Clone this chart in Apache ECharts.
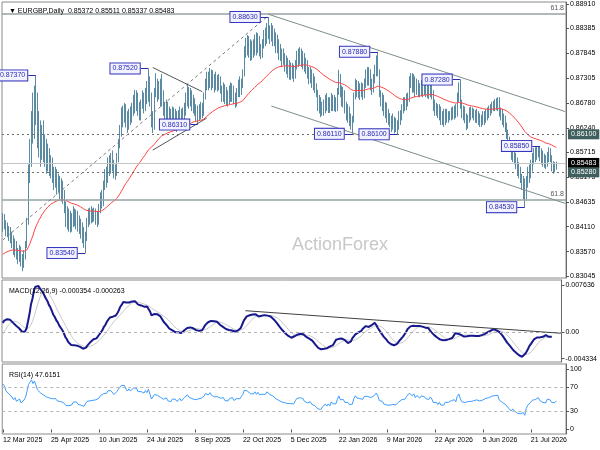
<!DOCTYPE html>
<html><head><meta charset="utf-8">
<script src="https://cdn.jsdelivr.net/npm/echarts@6/dist/echarts.min.js"></script>
<style>html,body{margin:0;padding:0;background:#fff}#c{width:600px;height:450px}</style>
</head><body><div id="c"></div>
<script>
// ---- DATA (prices in 1/10000, e.g. 8537 = 0.8537) ----
// closes before 12 Mar 2025 (not drawn, only warm up the indicators)
const historyClose = [
8390,8400,8380,8370,8390,8410,8420,8410,8420,8400,
8390,8380,8370,8360,8350,8340,8330,8320,8325,8310,
8300,8295,8300,8290,8295,8300,8290,8285,8295,8290,
8300,8295,8305,8300,8310,8320,8350,8365,8380,8375,
8400];
const closeP = [
8428,8420,8400,8405,8388,8395,8375,8360,8372,8350,
8345,8362,8338,8330,8352,8370,8420,8520,8560,8640,
8610,8690,8650,8600,8620,8575,8610,8560,8585,8540,
8565,8530,8550,8520,8505,8525,8495,8510,8480,8500,
8470,8455,8420,8440,8410,8430,8415,8445,8425,8440,
8410,8420,8395,8405,8375,8385,8420,8440,8425,8445,
8430,8445,8435,8420,8450,8475,8460,8500,8520,8510,
8545,8530,8555,8540,8525,8530,8560,8590,8615,8650,
8640,8665,8640,8625,8655,8640,8665,8680,8670,8690,
8665,8650,8675,8690,8670,8700,8685,8730,8690,8640,
8625,8700,8720,8695,8710,8680,8700,8660,8650,8675,
8640,8655,8630,8660,8640,8655,8630,8645,8660,8635,
8650,8670,8690,8700,8680,8695,8670,8680,8660,8645,
8665,8650,8670,8655,8690,8720,8735,8715,8740,8720,
8735,8710,8730,8715,8725,8705,8690,8710,8685,8700,
8680,8700,8690,8710,8685,8675,8700,8715,8700,8720,
8740,8790,8805,8790,8810,8780,8800,8785,8810,8790,
8815,8795,8780,8805,8825,8810,8840,8830,8820,8840,
8815,8825,8795,8810,8780,8790,8765,8780,8755,8770,
8745,8760,8740,8755,8735,8760,8780,8765,8785,8770,
8780,8755,8765,8740,8730,8745,8720,8730,8705,8700,
8670,8680,8655,8670,8660,8685,8665,8680,8660,8690,
8670,8685,8665,8700,8735,8700,8680,8700,8670,8650,
8665,8640,8630,8640,8690,8720,8700,8715,8695,8710,
8690,8720,8740,8725,8745,8720,8705,8730,8750,8770,
8745,8700,8680,8690,8660,8670,8645,8655,8640,8625,
8640,8620,8630,8625,8650,8640,8665,8680,8670,8690,
8680,8725,8735,8710,8730,8700,8720,8710,8700,8720,
8705,8715,8700,8710,8695,8715,8700,8670,8660,8670,
8650,8665,8640,8650,8635,8655,8640,8650,8645,8660,
8650,8665,8650,8690,8710,8675,8650,8665,8640,8630,
8645,8660,8645,8660,8650,8640,8655,8640,8645,8635,
8650,8640,8660,8650,8665,8660,8675,8665,8680,8670,
8685,8655,8660,8640,8645,8625,8610,8595,8590,8565,
8575,8555,8545,8530,8535,8515,8500,8510,8475,8510,
8530,8520,8545,8560,8575,8565,8575,8580,8560,8570,
8545,8555,8540,8565,8575,8560,8540,8530,8537.2,8548.3];
const highP = [
8440,8438,8425,8420,8412,8410,8400,8392,8385,8380,
8365,8372,8368,8352,8360,8380,8430,8545,8600,8660,
8700,8715,8737,8700,8660,8640,8630,8640,8610,8600,
8590,8580,8565,8560,8540,8540,8535,8525,8520,8515,
8510,8490,8465,8455,8450,8445,8440,8455,8450,8448,
8445,8435,8428,8420,8410,8400,8430,8450,8452,8455,
8450,8452,8450,8445,8460,8485,8490,8510,8535,8540,
8560,8565,8570,8575,8555,8545,8570,8600,8630,8668,
8672,8678,8675,8660,8665,8670,8678,8695,8706,8705,
8700,8680,8685,8705,8700,8710,8725,8752,8735,8700,
8660,8710,8742,8730,8725,8730,8740,8705,8680,8685,
8680,8670,8665,8670,8668,8665,8660,8662,8670,8665,
8668,8678,8700,8716,8712,8710,8705,8695,8688,8675,
8672,8675,8680,8678,8700,8730,8745,8745,8753,8750,
8748,8740,8745,8738,8740,8735,8715,8722,8718,8712,
8705,8715,8722,8720,8715,8700,8710,8728,8735,8730,
8750,8800,8818,8824,8822,8815,8812,8815,8825,8830,
8828,8822,8805,8815,8835,8840,8850,8863,8845,8850,
8845,8838,8830,8825,8815,8805,8795,8795,8785,8780,
8775,8770,8765,8764,8760,8770,8790,8795,8798,8795,
8790,8785,8775,8770,8755,8755,8750,8742,8735,8720,
8706,8695,8690,8680,8685,8695,8699,8690,8690,8699,
8695,8695,8690,8710,8749,8740,8715,8712,8705,8680,
8675,8670,8655,8650,8700,8730,8727,8725,8720,8722,
8720,8730,8750,8755,8755,8750,8730,8740,8760,8780,
8788,8750,8705,8700,8695,8680,8678,8665,8656,8650,
8655,8648,8645,8640,8660,8662,8675,8690,8690,8698,
8700,8735,8742,8742,8740,8735,8730,8727,8720,8727,
8725,8727,8720,8720,8718,8722,8720,8705,8685,8678,
8675,8675,8670,8660,8665,8665,8665,8660,8660,8668,
8670,8672,8675,8700,8722,8728,8685,8672,8670,8655,
8652,8668,8670,8668,8665,8662,8665,8660,8655,8652,
8660,8660,8665,8668,8672,8675,8680,8682,8686,8688,
8690,8690,8668,8665,8655,8650,8635,8620,8605,8595,
8585,8580,8570,8560,8550,8540,8525,8520,8515,8520,
8540,8545,8555,8570,8580,8582,8584,8583,8585,8580,
8575,8568,8565,8572,8582,8580,8565,8552,8550,8551.1];
const lowP = [
8415,8405,8390,8388,8380,8375,8365,8350,8345,8340,
8330,8335,8325,8315,8322,8340,8365,8415,8505,8540,
8590,8600,8630,8580,8560,8540,8555,8550,8540,8525,
8530,8520,8515,8505,8490,8495,8480,8485,8470,8465,
8460,8440,8410,8405,8400,8398,8400,8410,8412,8405,
8400,8395,8385,8375,8365,8354,8380,8410,8415,8418,
8420,8422,8415,8410,8415,8440,8450,8455,8490,8495,
8505,8520,8525,8530,8515,8512,8520,8550,8580,8605,
8625,8635,8625,8613,8620,8630,8635,8650,8655,8660,
8650,8640,8640,8665,8655,8660,8675,8680,8670,8625,
8613,8620,8690,8680,8685,8670,8670,8650,8630,8640,
8630,8625,8620,8625,8630,8625,8615,8620,8635,8625,
8628,8640,8650,8670,8665,8670,8660,8655,8650,8638,
8631,8640,8642,8645,8650,8685,8705,8705,8710,8705,
8710,8700,8705,8702,8705,8698,8680,8680,8675,8672,
8670,8675,8680,8680,8675,8667,8670,8690,8690,8695,
8710,8735,8775,8780,8775,8768,8770,8775,8780,8780,
8785,8778,8772,8775,8795,8800,8805,8815,8805,8810,
8800,8800,8785,8785,8770,8768,8755,8760,8745,8740,
8732,8728,8727,8730,8723,8730,8750,8755,8760,8755,
8750,8745,8740,8730,8718,8720,8710,8705,8699,8690,
8660,8655,8647,8650,8650,8655,8660,8656,8656,8660,
8660,8660,8658,8660,8695,8690,8670,8668,8655,8640,
8635,8628,8620,8611,8635,8685,8690,8688,8684,8690,
8684,8688,8710,8715,8715,8705,8695,8700,8720,8735,
8735,8690,8670,8660,8650,8645,8635,8630,8625,8615,
8620,8612,8615,8610,8620,8630,8640,8655,8660,8662,
8670,8680,8710,8700,8700,8690,8695,8690,8690,8692,
8690,8695,8690,8688,8686,8690,8685,8660,8650,8650,
8645,8640,8630,8630,8626,8630,8635,8635,8640,8640,
8642,8642,8645,8648,8680,8665,8645,8640,8634,8619,
8622,8635,8640,8645,8640,8635,8634,8630,8626,8626,
8630,8630,8635,8640,8645,8650,8655,8660,8660,8662,
8660,8648,8640,8630,8625,8615,8600,8585,8580,8555,
8550,8545,8535,8520,8515,8505,8490,8470,8453,8470,
8495,8505,8515,8530,8545,8550,8555,8560,8552,8545,
8540,8538,8535,8540,8550,8550,8530,8525,8528,8533.7];

// labelled swing points: [bar index, price, text]
const pivots = [
  [22, 0.8737, '0.87370'], [55, 0.8354, '0.83540'], [97, 0.8752, '0.87520'],
  [130, 0.8631, '0.86310'], [177, 0.8863, '0.88630'], [233, 0.8611, '0.86110'],
  [250, 0.8788, '0.87880'], [263, 0.8610, '0.86100'], [305, 0.8728, '0.87280'],
  [358, 0.8585, '0.85850'], [348, 0.8453, '0.84530']
];
// trend lines: [[idx, price], [idx, price]]
const dashedTrend = [[0, 0.8382], [176, 0.8863]];
const triangleUpper = [[100, 0.8754], [133, 0.8702]];
const triangleLower = [[100, 0.8576], [136, 0.8645]];
const channelUpper = [[177, 0.8869], [375, 0.8659]];
const channelLower = [[179, 0.8671], [375, 0.8461]];
const macdTrend = [[163, 0.00346], [375, -0.0002]];
// horizontal levels
const supportLevel = 0.86100, currentPrice = 0.85483, lowerLevel = 0.85280;
const fibLower = 0.84695, fibUpper = 0.88709;

const priceTicks = [0.88910,0.88385,0.87845,0.87305,0.86780,0.86240,0.85715,0.85175,0.84635,0.84110,0.83570,0.83045];
const macdTicks = [0.007636, 0, -0.004334];
const macdTickText = ['0.007636', '0.00', '-0.004334'];
const rsiTicks = [100, 70, 30, 0];
const xTickLabels = ['12 Mar 2025','25 Apr 2025','10 Jun 2025','24 Jul 2025','8 Sep 2025','22 Oct 2025','5 Dec 2025','22 Jan 2026','9 Mar 2026','22 Apr 2026','5 Jun 2026','21 Jul 2026'];
const TICK_EVERY = 32;
const N_CAT = 376; // bars plus empty right margin

// ---- build ----
const cats = [];
{ const d = new Date(Date.UTC(2025, 2, 12));
  while (cats.length < N_CAT) { const w = d.getUTCDay();
    if (w !== 0 && w !== 6) cats.push(d.toISOString().slice(0, 10));
    d.setUTCDate(d.getUTCDate() + 1); } }

const S = 10000;
const allClose = historyClose.concat(closeP).map(v => v / S);
const H0 = historyClose.length;
const ohlc = closeP.map((c, i) => {
  const o = (i === 0 ? historyClose[H0 - 1] : closeP[i - 1]) / S;
  const cc = c / S;
  const hi = Math.max(highP[i] / S, o, cc), lo = Math.min(lowP[i] / S, o, cc);
  return [o, cc, lo, hi];
});
function ema(a, n) { const k = 2 / (n + 1); let e = a[0]; return a.map((v, i) => (e = i ? v * k + e * (1 - k) : v)); }
function sma(a, n) { return a.map((v, i) => { if (i < n - 1) return null; let s = 0; for (let j = i - n + 1; j <= i; j++) s += a[j]; return s / n; }); }
function rsi(a, n) { const out = a.map(() => null); let g = 0, l = 0;
  for (let i = 1; i <= n; i++) { const d = a[i] - a[i - 1]; if (d > 0) g += d; else l -= d; }
  g /= n; l /= n; out[n] = l === 0 ? 100 : 100 - 100 / (1 + g / l);
  for (let i = n + 1; i < a.length; i++) { const d = a[i] - a[i - 1];
    g = (g * (n - 1) + Math.max(d, 0)) / n; l = (l * (n - 1) + Math.max(-d, 0)) / n;
    out[i] = l === 0 ? 100 : 100 - 100 / (1 + g / l); }
  return out; }
const ma55 = ema(allClose, 55).slice(H0);
const e12 = ema(allClose, 12), e26 = ema(allClose, 26);
const macdAll = e12.map((v, i) => v - e26[i]);
const macd = macdAll.slice(H0);
const signal = sma(macdAll, 9).slice(H0);
const rsi14 = rsi(allClose, 14).slice(H0);

const FONT = 'Liberation Sans';
const BAR = '#5b8aa3';
const dotted = { color: '#6e6e6e', width: 1, type: [2, 3] };
function seg(p, style) { return [{ coord: p[0], lineStyle: style }, { coord: p[1] }]; }
const boxLabel = (txt, bg) => ({ show: true, position: 'end', formatter: txt, distance: 2,
  backgroundColor: bg, color: '#fff', padding: [2, 3, 1, 3], fontSize: 7, fontFamily: FONT });

const chStyle = { color: '#7d8d8d', width: 1, type: 'solid' };
const triStyle = { color: '#555555', width: 1, type: 'solid' };
const pivotStyle = { color: '#2b2bb0', width: 1, type: 'solid' };

const priceMarkLines = [
  { yAxis: supportLevel, lineStyle: dotted, label: boxLabel('0.86100', '#3f5e5e') },
  { yAxis: currentPrice, lineStyle: { color: '#c4c4c4', width: 1, type: 'solid' }, label: boxLabel('0.85483', '#000000') },
  { yAxis: lowerLevel, lineStyle: dotted, label: boxLabel('0.85280', '#3f5e5e') },
  { yAxis: fibLower, lineStyle: { color: '#94a2a2', width: 1.5, type: 'solid' },
    label: { show: true, position: 'insideEndTop', formatter: '61.8', color: '#555', fontSize: 7, fontFamily: FONT, distance: 2 } },
  { yAxis: fibUpper, lineStyle: { color: '#94a2a2', width: 1.5, type: 'solid' },
    label: { show: true, position: 'insideEndTop', formatter: '61.8', color: '#555', fontSize: 7, fontFamily: FONT, distance: 2 } },
  seg(dashedTrend, { color: '#7a7a7a', width: 1, type: [3, 3] }),
  seg(triangleUpper, triStyle), seg(triangleLower, triStyle),
  seg(channelUpper, chStyle), seg(channelLower, chStyle)
].concat(pivots.map(p => seg([[p[0] - 5, p[1]], [p[0], p[1]]], pivotStyle)));

const option = {
  animation: false,
  textStyle: { fontFamily: FONT },
  title: [
    { text: '▼ EURGBP,Daily  0.85372 0.85511 0.85337 0.85483', left: 4, top: 3, textStyle: { fontSize: 7, fontWeight: 'normal', color: '#000', fontFamily: FONT } },
    { text: 'MACD(12,26,9) -0.000354 -0.000263', left: 4, top: 283, textStyle: { fontSize: 7, fontWeight: 'normal', color: '#000', fontFamily: FONT } },
    { text: 'RSI(14) 47.6151', left: 4, top: 367, textStyle: { fontSize: 7, fontWeight: 'normal', color: '#000', fontFamily: FONT } }
  ],
  graphic: [{ type: 'text', left: 292, top: 236, z: -1, style: { text: 'ActionForex', fontSize: 18, fill: '#c8c8c8', fontFamily: FONT } }],
  grid: [
    { left: 2, top: 2, width: 564, height: 276, show: true, borderColor: '#8a8a8a', borderWidth: 1 },
    { left: 2, top: 280, width: 564, height: 82, show: true, borderColor: '#8a8a8a', borderWidth: 1 },
    { left: 2, top: 364, width: 564, height: 70, show: true, borderColor: '#8a8a8a', borderWidth: 1 }
  ],
  xAxis: [0, 1, 2].map(g => ({
    type: 'category', gridIndex: g, data: cats, boundaryGap: true, show: g === 2,
    axisLine: { show: false },
    axisTick: { show: g === 2, alignWithLabel: true, length: 3, lineStyle: { color: '#555' }, interval: i => i % TICK_EVERY === 0 },
    axisLabel: { show: g === 2, interval: i => i % TICK_EVERY === 0, align: 'left', margin: 3, fontSize: 7, color: '#000',
      formatter: (v, i) => xTickLabels[Math.round(i / TICK_EVERY)] || '' },
    splitLine: { show: false }
  })),
  yAxis: [
    { type: 'value', gridIndex: 0, position: 'right', min: 0.830019, max: 0.889531, scale: true,
      axisLine: { show: true, lineStyle: { color: '#6a6a6a' } },
      axisTick: { show: true, length: 3, lineStyle: { color: '#555' }, customValues: priceTicks },
      axisLabel: { customValues: priceTicks, formatter: v => v.toFixed(5), fontSize: 7, color: '#000', margin: 4 },
      splitLine: { show: false } },
    { type: 'value', gridIndex: 1, position: 'right', min: -0.004874, max: 0.008448,
      axisLine: { show: true, lineStyle: { color: '#6a6a6a' } },
      axisTick: { show: true, length: 3, lineStyle: { color: '#555' }, customValues: macdTicks },
      axisLabel: { customValues: macdTicks, formatter: v => macdTickText[macdTicks.findIndex(t => Math.abs(t - v) < 1e-7)] || '', fontSize: 7, color: '#000', margin: 4 },
      splitLine: { show: false } },
    { type: 'value', gridIndex: 2, position: 'right', min: -7.44, max: 108.26,
      axisLine: { show: true, lineStyle: { color: '#6a6a6a' } },
      axisTick: { show: true, length: 3, lineStyle: { color: '#555' }, customValues: rsiTicks },
      axisLabel: { customValues: rsiTicks, formatter: v => String(Math.round(v)), fontSize: 7, color: '#000', margin: 4 },
      splitLine: { show: false } }
  ],
  series: [
    { type: 'candlestick', xAxisIndex: 0, yAxisIndex: 0, data: ohlc, barWidth: 1,
      itemStyle: { color: BAR, color0: BAR, borderColor: BAR, borderColor0: BAR, borderWidth: 1 },
      markLine: { silent: true, symbol: ['none', 'none'], animation: false, precision: 6, data: priceMarkLines },
      markPoint: { silent: true, animation: false, symbol: 'rect', symbolSize: 1, itemStyle: { color: 'rgba(0,0,0,0)' },
        data: pivots.map(p => ({ name: p[2], coord: [p[0], p[1]], value: p[1] })),
        label: { show: true, position: 'left', distance: 8, formatter: '{b}', fontSize: 7, fontFamily: FONT,
          color: '#2a2ab5', backgroundColor: '#f2f2ff', borderColor: '#3636c0', borderWidth: 1, padding: [2, 2, 1, 2] } } },
    { type: 'line', xAxisIndex: 0, yAxisIndex: 0, data: ma55, showSymbol: false, lineStyle: { color: '#ff4444', width: 1 }, z: 3 },
    { type: 'line', xAxisIndex: 1, yAxisIndex: 1, data: signal, showSymbol: false, lineStyle: { color: '#c8c8c8', width: 1 }, z: 2,
      markLine: { silent: true, symbol: ['none', 'none'], animation: false, precision: 8, data: [
        { yAxis: 0, lineStyle: { color: '#b0b0b0', width: 1, type: [3, 3] }, label: { show: false } },
        seg(macdTrend, { color: '#404040', width: 1, type: 'solid' }) ], label: { show: false } } },
    { type: 'line', xAxisIndex: 1, yAxisIndex: 1, data: macd, showSymbol: false, lineStyle: { color: '#17178e', width: 2 }, z: 3 },
    { type: 'line', xAxisIndex: 2, yAxisIndex: 2, data: rsi14, showSymbol: false, lineStyle: { color: '#3c9cff', width: 1 },
      markLine: { silent: true, symbol: ['none', 'none'], animation: false, label: { show: false }, data: [
        { yAxis: 70, lineStyle: { color: '#b8b8b8', width: 1, type: [3, 3] } },
        { yAxis: 30, lineStyle: { color: '#b8b8b8', width: 1, type: [3, 3] } } ] } }
  ]
};
echarts.init(document.getElementById('c'), null, { renderer: 'canvas' }).setOption(option);
</script></body></html>
